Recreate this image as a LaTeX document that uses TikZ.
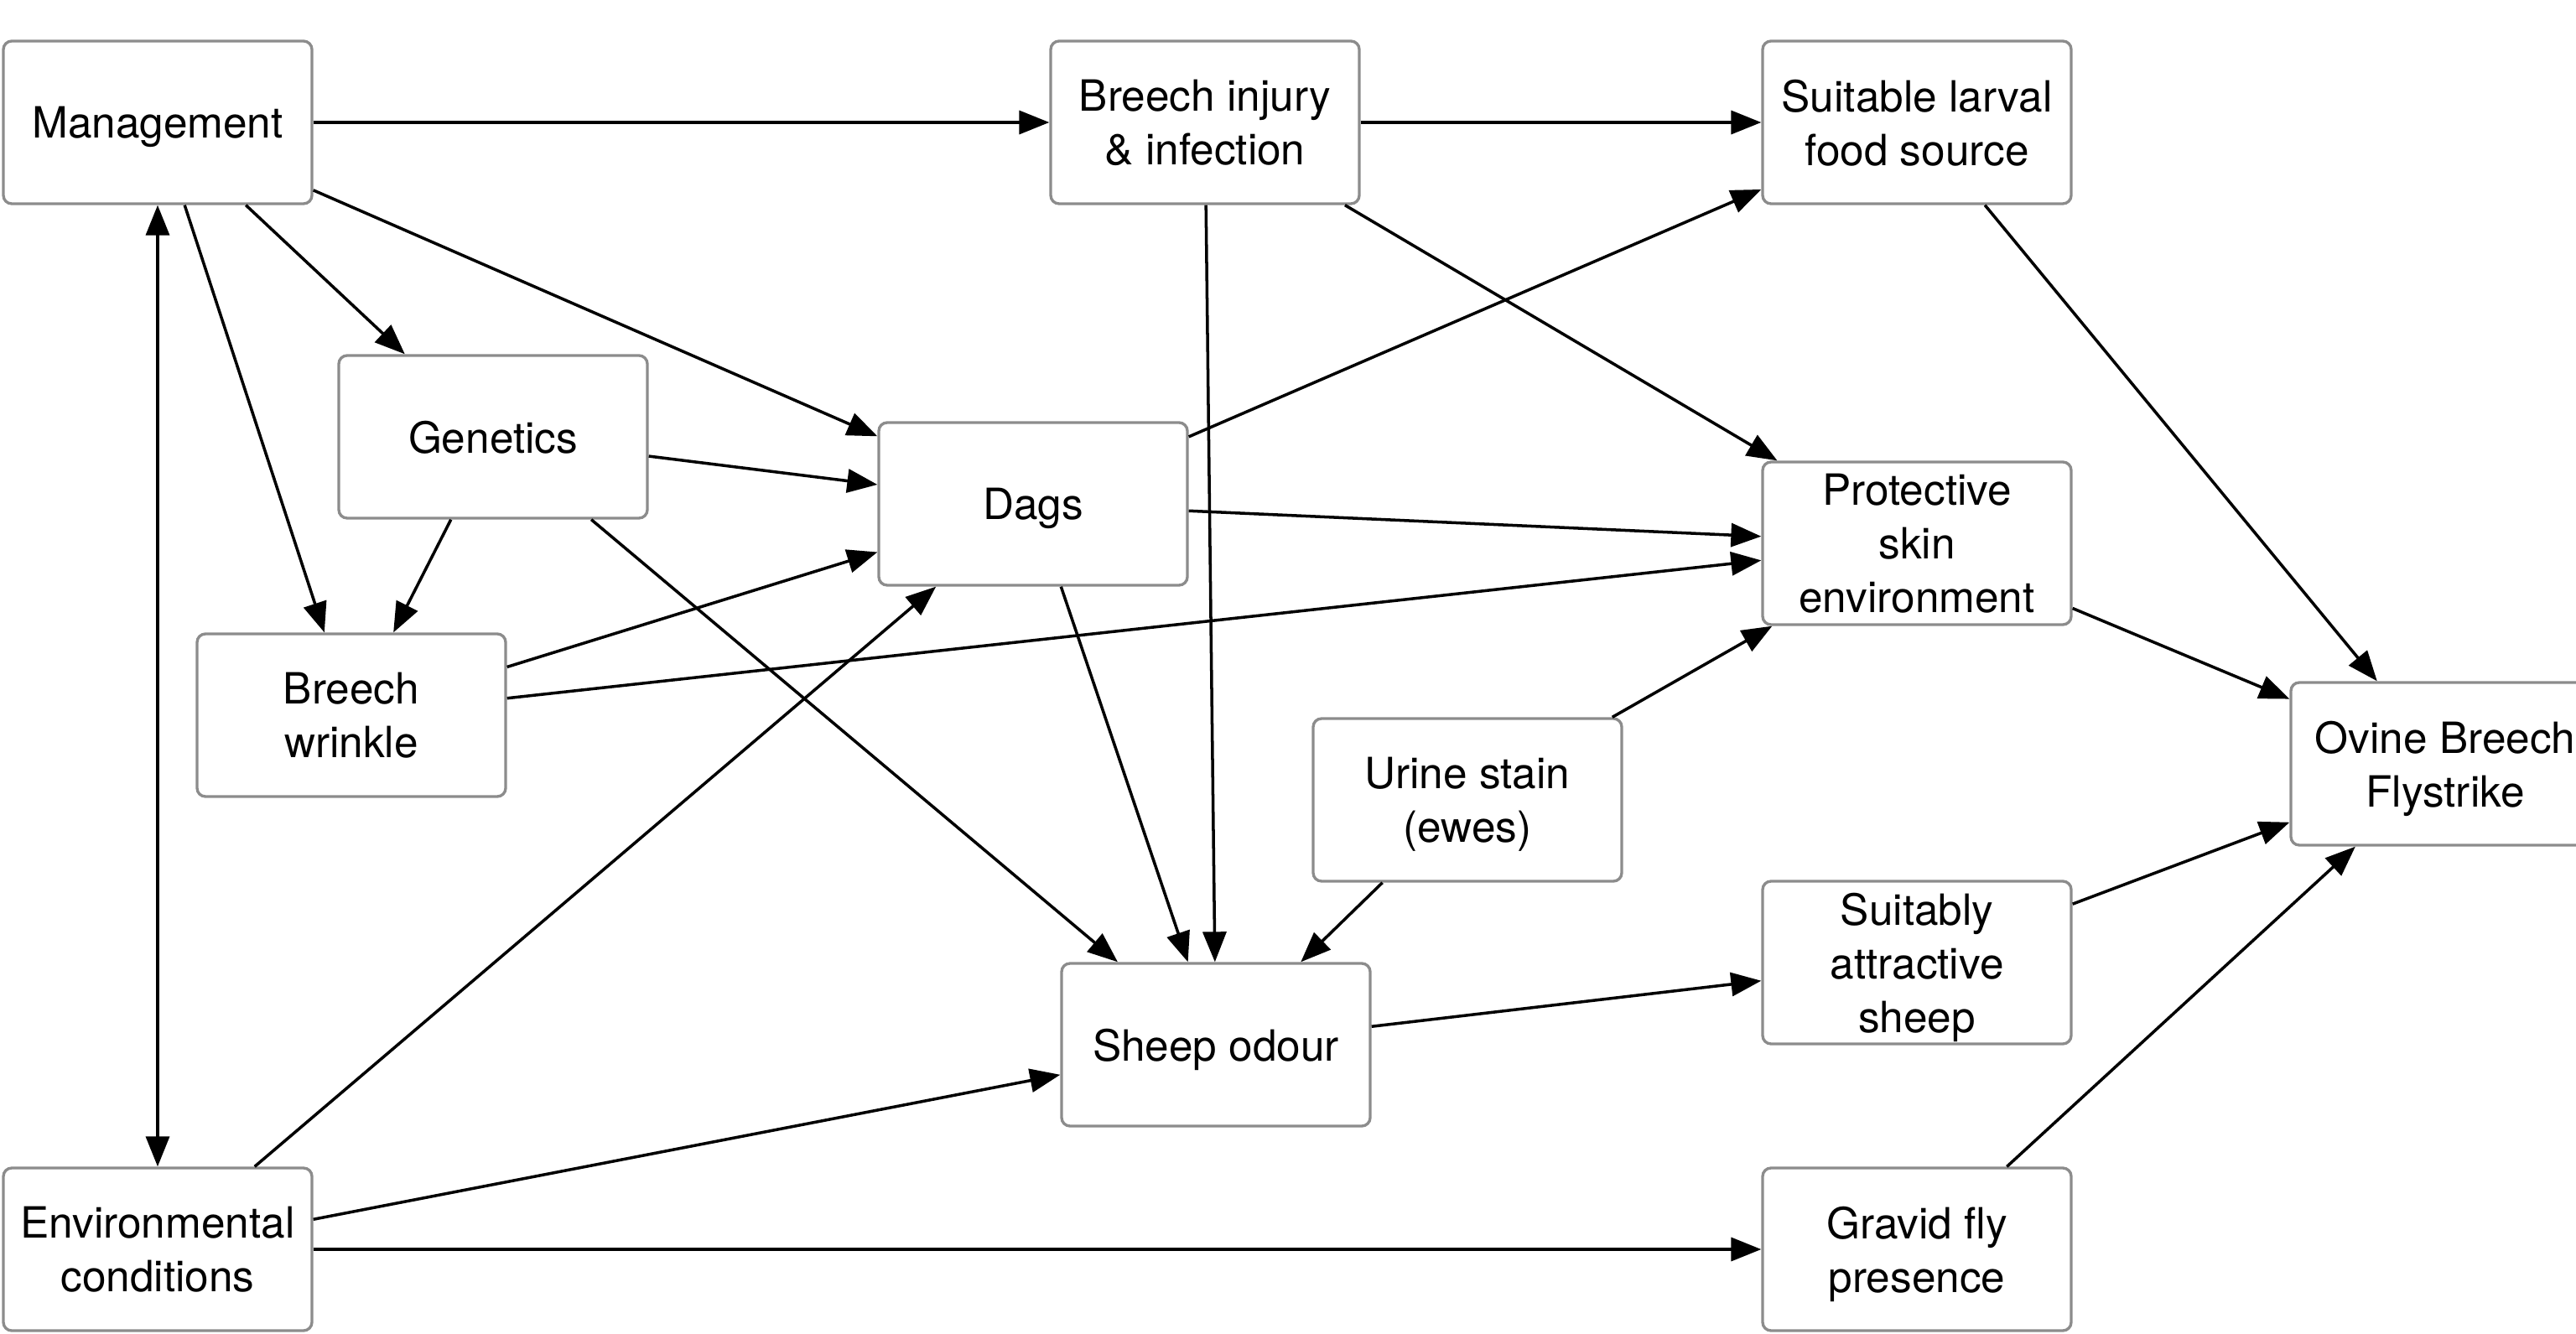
\documentclass[tikz,border=0pt]{standalone}
\usepackage{fontspec}
\setmainfont{TeX Gyre Heros}
\usetikzlibrary{arrows.meta}
\tikzset{
  factor/.style={draw=gray!90, line width=0.95pt, rounded corners=0.1cm, fill=white,
    minimum width=3.68cm, minimum height=1.94cm, inner sep=0pt, align=center,
    text depth=0pt, font=\fontsize{14.6pt}{18.2pt}\selectfont},
  link/.style={->, line width=1pt, >={Triangle[length=0.36cm,width=0.28cm]}}
}
\begin{document}
\begin{tikzpicture}
\useasboundingbox (0,0) rectangle (30.72,15.90);
\node (mgmt) [factor] at (1.88,14.44) {Management};
\node (injury) [factor] at (14.37,14.44) {Breech injury\\\& infection};
\node (larval) [factor] at (22.86,14.44) {Suitable larval\\food source};
\node (genetics) [factor] at (5.88,10.69) {Genetics};
\node (dags) [factor] at (12.32,9.89) {Dags};
\node (skin) [factor] at (22.86,9.42) {Protective\\skin\\environment};
\node (wrinkle) [factor] at (4.19,7.37) {Breech\\wrinkle};
\node (urine) [factor] at (17.50,6.36) {Urine stain\\(ewes)};
\node (strike) [factor] at (29.16,6.79) {Ovine Breech\\Flystrike};
\node (attract) [factor] at (22.86,4.42) {Suitably\\attractive\\sheep};
\node (odour) [factor] at (14.50,3.44) {Sheep odour};
\node (env) [factor] at (1.88,1.00) {Environmental\\conditions};
\node (gravid) [factor] at (22.86,1.00) {Gravid fly\\presence};
\draw [link,<->] (mgmt) -- (env);
\draw [link] (mgmt) -- (injury);
\draw [link] (mgmt) -- (genetics);
\draw [link] (mgmt) -- (wrinkle);
\draw [link] (mgmt) -- (dags);
\draw [link] (genetics) -- (dags);
\draw [link] (genetics) -- (wrinkle);
\draw [link] (genetics) -- (odour);
\draw [link] (wrinkle) -- (dags);
\draw [link] (wrinkle) -- (skin);
\draw [link] (env) -- (dags);
\draw [link] (env) -- (odour);
\draw [link] (env) -- (gravid);
\draw [link] (injury) -- (larval);
\draw [link] (injury) -- (odour);
\draw [link] (injury) -- (skin);
\draw [link] (dags) -- (larval);
\draw [link] (dags) -- (skin);
\draw [link] (dags) -- (odour);
\draw [link] (urine) -- (skin);
\draw [link] (urine) -- (odour);
\draw [link] (odour) -- (attract);
\draw [link] (larval) -- (strike);
\draw [link] (skin) -- (strike);
\draw [link] (attract) -- (strike);
\draw [link] (gravid) -- (strike);
\end{tikzpicture}
\end{document}
